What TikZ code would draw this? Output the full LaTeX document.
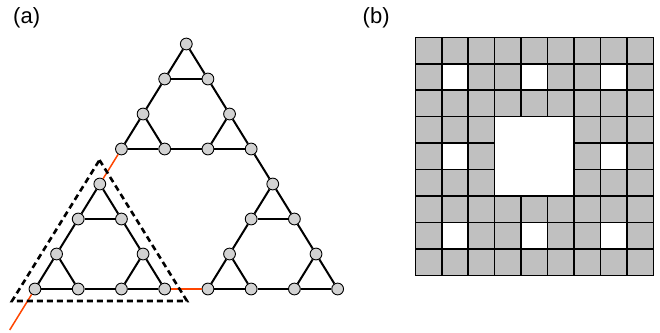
\documentclass[tikz,border=0pt]{standalone}
\usepackage{fontspec}
\setmainfont{Liberation Sans}
\definecolor{orangered}{RGB}{255,69,0}
\definecolor{nodefill}{RGB}{210,210,210}
\definecolor{cellgray}{RGB}{192,192,192}
\begin{document}
\begin{tikzpicture}[x=1pt,y=-1pt,
  vtx/.style={circle,draw=black,line width=0.9pt,fill=nodefill,minimum size=11.8pt,inner sep=0pt},
  edge/.style={line width=2pt,black},
  redge/.style={line width=1.5pt,color=orangered},
  dashtri/.style={line width=2.6pt,black,dash pattern=on 6pt off 4pt},
  cell/.style={fill=cellgray,draw=black,line width=1.5pt},
  lbl/.style={font=\fontsize{22}{26}\selectfont,anchor=base west,inner sep=0pt}]
\useasboundingbox (0,0) rectangle (660,332);
% labels
\node[lbl] (la) at (13,23.4) {(a)};
\node[lbl] (lb) at (362.5,23.4) {(b)};
% gasket nodes
\foreach \k/\m in {0/0,1/0,1/1,2/0,2/2,3/0,3/1,3/2,3/3,4/0,4/4,5/0,5/1,5/4,5/5,6/0,6/2,6/4,6/6,7/0,7/1,7/2,7/3,7/4,7/5,7/6,7/7}
  \node[vtx] (n\k\m) at ({186.3+(2*\m-\k)*21.62},{44+\k*35}) {};
% black edges
\foreach \a/\b in {n00/n10,n00/n11,n10/n11,n10/n20,n11/n22,n20/n30,n20/n31,n22/n32,n22/n33,
  n30/n31,n31/n32,n32/n33,n33/n44,n40/n50,n40/n51,n44/n54,n44/n55,n50/n51,n54/n55,
  n50/n60,n51/n62,n54/n64,n55/n66,n60/n70,n60/n71,n62/n72,n62/n73,n64/n74,n64/n75,
  n66/n76,n66/n77,n70/n71,n71/n72,n72/n73,n74/n75,n75/n76,n76/n77}
  \draw[edge] (\a) -- (\b);
% red path
\coordinate (tail) at (9.7,330);
\draw[redge] (n30) -- (n40);
\draw[redge] (n73) -- (n74);
\draw[redge] (n70) -- (tail);
% dashed triangle
\coordinate (ta) at (99.5,160);
\coordinate (tb) at (187,301);
\coordinate (tc) at (12,301);
\draw[dashtri] (ta) -- (tb) -- (tc) -- cycle;
% carpet
\foreach \i in {0,...,8}
  \foreach \j in {0,...,8} {
    \pgfmathtruncatemacro\h{(mod(\i,3)==1)*(mod(\j,3)==1)+(floor(\i/3)==1)*(floor(\j/3)==1)}
    \ifnum\h=0
      \draw[cell] ({415.3+\i*26.45},{37.3+\j*26.45}) rectangle ++(26.45,26.45);
    \fi
  }
\end{tikzpicture}
\end{document}
